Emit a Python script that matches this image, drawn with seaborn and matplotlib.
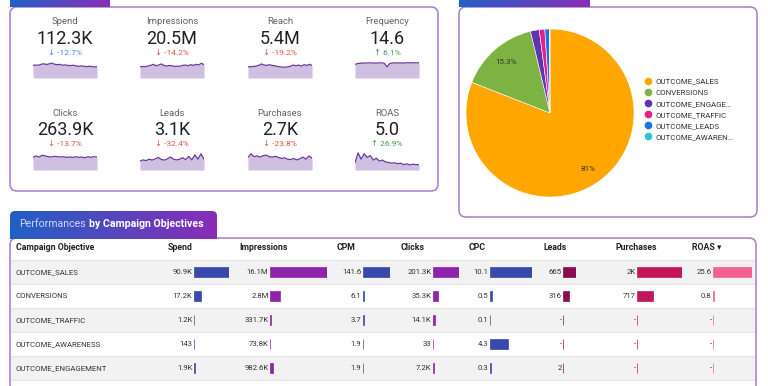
import numpy as np
import matplotlib.pyplot as plt
import seaborn as sns
from matplotlib.patches import FancyBboxPatch
from matplotlib.colors import LinearSegmentedColormap
from matplotlib.lines import Line2D

sns.set_style('white')
plt.rcParams['font.family'] = ['Roboto', 'DejaVu Sans']

W, H = 768, 386

# --- scorecards ---
kpi_names = ['Spend', 'Impressions', 'Reach', 'Frequency', 'Clicks', 'Leads', 'Purchases', 'ROAS']
kpi_values = [112300, 20.5e6, 5.4e6, 14.6, 263900, 3100, 2700, 5.0]
kpi_deltas = [-12.7, -14.2, -19.2, 6.1, -13.7, -32.4, -23.8, 26.9]

spark_spend = [0.70, 0.72, 0.71, 0.76, 0.79, 0.75, 0.78, 0.83, 0.77, 0.74, 0.76, 0.71, 0.73, 0.70,
               0.69, 0.71, 0.68, 0.65, 0.67, 0.66, 0.63, 0.65, 0.64, 0.61, 0.63]
spark_impr = [0.62, 0.64, 0.63, 0.66, 0.70, 0.76, 0.68, 0.72, 0.78, 0.70, 0.66, 0.70, 0.68, 0.64,
              0.66, 0.65, 0.70, 0.72, 0.68, 0.74, 0.70, 0.76, 0.72, 0.82, 0.74]
spark_reach = [0.62, 0.63, 0.64, 0.66, 0.70, 0.78, 0.72, 0.70, 0.74, 0.70, 0.68, 0.64, 0.62, 0.60,
               0.60, 0.62, 0.66, 0.72, 0.68, 0.72, 0.66, 0.74, 0.70, 0.76, 0.70]
spark_freq = [0.76, 0.80, 0.82, 0.83, 0.83, 0.84, 0.84, 0.83, 0.83, 0.84, 0.84, 0.82, 0.62, 0.80,
              0.84, 0.83, 0.84, 0.84, 0.83, 0.84, 0.85, 0.84, 0.85, 0.84, 0.85]
spark_clicks = [0.70, 0.78, 0.72, 0.82, 0.78, 0.74, 0.72, 0.76, 0.74, 0.72, 0.74, 0.70, 0.72, 0.70,
                0.74, 0.70, 0.72, 0.68, 0.74, 0.70, 0.74, 0.72]
spark_leads = [0.50, 0.56, 0.52, 0.60, 0.55, 0.62, 0.70, 0.58, 0.55, 0.62, 0.72, 0.60, 0.56, 0.60,
               0.68, 0.58, 0.76, 0.56, 0.84, 0.60, 0.90, 0.60]
spark_purch = [0.70, 0.90, 0.74, 0.78, 0.72, 0.80, 0.82, 0.74, 0.72, 0.76, 0.70, 0.64, 0.68, 0.60,
               0.58, 0.64, 0.56, 0.62, 0.72, 0.60, 0.78, 0.66]
spark_roas = [0.40, 0.95, 0.60, 0.90, 0.70, 0.80, 0.55, 0.65, 0.50, 0.55, 0.45, 0.42, 0.38, 0.40,
              0.35, 0.38, 0.30, 0.34, 0.28, 0.32, 0.30, 0.30]
sparks = [spark_spend, spark_impr, spark_reach, spark_freq,
          spark_clicks, spark_leads, spark_purch, spark_roas]

# --- pie (spend share by objective) ---
pie_labels = ['OUTCOME_SALES', 'CONVERSIONS', 'OUTCOME_ENGAGEMENT', 'OUTCOME_TRAFFIC',
              'OUTCOME_LEADS', 'OUTCOME_AWARENESS']
pie_spend = [91.0, 17.2, 1.9, 1.2, 0.96, 0.143]

# --- table ---
objectives = ['OUTCOME_SALES', 'CONVERSIONS', 'OUTCOME_TRAFFIC', 'OUTCOME_AWARENESS', 'OUTCOME_ENGAGEMENT']
spend = [90900, 17200, 1200, 143, 1900]
impressions = [16.1e6, 2.8e6, 331700, 73800, 982600]
cpm = [141.6, 6.1, 3.7, 1.9, 1.9]
clicks = [201300, 35300, 14100, 33, 7200]
cpc = [10.1, 0.5, 0.1, 4.3, 0.3]
leads = [665, 316, np.nan, np.nan, 2]
purchases = [2000, 717, np.nan, np.nan, np.nan]
roas = [25.6, 0.8, np.nan, np.nan, np.nan]


def fmt_kpi(v):
    if v >= 1e6:
        return f'{v / 1e6:.1f}M'
    if v >= 1e3:
        return f'{v / 1e3:.1f}K'
    return f'{v:.1f}'


def fmt_cell(v):
    if np.isnan(v):
        return '-'
    if v >= 1e6:
        s, suf = f'{v / 1e6:.1f}', 'M'
    elif v >= 1e3:
        s, suf = f'{v / 1e3:.1f}', 'K'
    elif v == int(v):
        return str(int(v))
    else:
        return f'{v:.1f}'
    if s.endswith('.0'):
        s = s[:-2]
    return s + suf


fig = plt.figure(figsize=(W / 100, H / 100), dpi=100)
fig.patch.set_facecolor('white')


def px_axes(x, y, w, h):
    return fig.add_axes([x / W, 1 - (y + h) / H, w / W, h / H])


base = px_axes(0, 0, W, H)
base.set_xlim(0, W)
base.set_ylim(H, 0)
base.axis('off')

border = '#a47cc9'
tab_cmap = LinearSegmentedColormap.from_list('tab', ['#2160c4', '#8a2db8'])
grad = np.linspace(0, 1, 256).reshape(1, -1)


def card(x0, y0, x1, y1):
    p = FancyBboxPatch((x0, y0), x1 - x0, y1 - y0, boxstyle='round,pad=0,rounding_size=7',
                       fc='none', ec=border, lw=1.1, zorder=2)
    base.add_patch(p)


def tab(x0, y0, x1, y1):
    clip = FancyBboxPatch((x0, y0), x1 - x0, y1 - y0 + 8, boxstyle='round,pad=0,rounding_size=5',
                          fc='none', ec='none', transform=base.transData)
    base.add_patch(clip)
    im = base.imshow(grad, cmap=tab_cmap, extent=(x0, x1, y1, y0), aspect='auto', zorder=3)
    im.set_clip_path(clip)


card(10, 7, 438, 191)
card(459, 7, 757, 217)
card(10, 238, 756, 420)
tab(10, -20, 110, 7)
tab(459, -20, 590, 7)
tab(10, 211, 217, 239)
base.set_xlim(0, W)
base.set_ylim(H, 0)

t1 = base.text(19, 227, 'Performances', color='#c9d6f5', fontsize=7.6, va='baseline', zorder=4)
base.annotate('by Campaign Objectives', xy=(1, 0), xycoords=t1, xytext=(2.2, 0),
              textcoords='offset points', color='white', fontsize=7.6, fontweight='bold',
              va='bottom', zorder=4)

# scorecards
col_cx = [65, 172, 280, 387]
row_y = [22, 113]
for i, name in enumerate(kpi_names):
    cx = col_cx[i % 4]
    ty = row_y[i // 4]
    base.text(cx, ty, name, ha='center', va='center', fontsize=6.8, color='#5f6368')
    base.text(cx, ty + 17, fmt_kpi(kpi_values[i]), ha='center', va='center', fontsize=13,
              color='#202124')
    d = kpi_deltas[i]
    if name == 'Spend':
        dc = '#3a8de0'
    elif d < 0:
        dc = '#e0524a'
    else:
        dc = '#3e9b4f'
    arrow = '↓' if d < 0 else '↑'
    base.text(cx, ty + 31, f'{arrow} {d:.1f}%', ha='center', va='center', fontsize=6,
              color=dc)
    vals = sparks[i]
    sx = cx - 32
    sy = ty + 38 if i < 4 else ty + 39
    sax = px_axes(sx, sy, 64, 18)
    xs = np.arange(len(vals))
    sax.fill_between(xs, vals, color='#cfbfe1', lw=0)
    sns.lineplot(x=xs, y=vals, ax=sax, color='#6a3a9e', linewidth=0.9)
    sax.set_xlim(0, len(vals) - 1)
    sax.set_ylim(0, 1)
    sax.axis('off')

# pie
pax = px_axes(466, 29, 168, 168)
pie_colors = ['#ffa600', '#7cb342', '#5e35b1', '#e91e8c', '#1a73e8', '#26c6da']


def pct(p):
    if p < 5:
        return ''
    s = f'{p:.1f}'
    if s.endswith('.0'):
        s = s[:-2]
    return s + '%'


pax.pie(pie_spend, colors=pie_colors, startangle=90, counterclock=False, autopct=pct,
        pctdistance=0.8, textprops={'fontsize': 5.8, 'color': '#333333'},
        wedgeprops={'edgecolor': 'white', 'linewidth': 0.4})
pax.set_xlim(-1, 1)
pax.set_ylim(-1, 1)
pax.set_aspect('equal')

handles = [Line2D([], [], marker='o', ls='none', color=c, markersize=4.5) for c in pie_colors]
short = [n if len(n) <= 15 else n[:14] + '…' for n in pie_labels]
leg = fig.legend(handles, short, loc='upper left', bbox_to_anchor=(641 / W, 1 - 74 / H),
                 frameon=False, fontsize=5.7, handlelength=0.8, handletextpad=0.5,
                 labelspacing=0.58, borderpad=0)
for t in leg.get_texts():
    t.set_color('#333333')

# table
row_top = 260
row_h = 24
for r in range(len(objectives) + 1):
    y = row_top + r * row_h
    base.plot([11, 755], [y, y], color='#e2e2e2', lw=0.6, zorder=1)
for r in range(0, len(objectives), 2):
    base.fill_between([11, 755], row_top + r * row_h, row_top + (r + 1) * row_h,
                      color='#f2f2f2', lw=0, zorder=0)

base.text(16, 247, 'Campaign Objective', fontsize=6.3, fontweight='bold', va='center',
          color='#222222')
for r, obj in enumerate(objectives):
    base.text(16, row_top + r * row_h + 12, obj, fontsize=5.6, va='center', color='#333333')

columns = [
    ('Spend', spend, 168, 194, 35, '#3949ab'),
    ('Impressions', impressions, 239, 270, 57, '#8e24aa'),
    ('CPM', cpm, 337, 363, 27, '#3949ab'),
    ('Clicks', clicks, 401, 433, 26, '#8e24aa'),
    ('CPC', cpc, 469, 490, 42, '#3949ab'),
    ('Leads', leads, 543, 563, 13, '#880e4f'),
    ('Purchases', purchases, 616, 637, 45, '#c2185b'),
    ('ROAS ▾', roas, 692, 713, 39, '#f06292'),
]
for header, vals, hx, bx, bw, c in columns:
    base.text(hx, 247, header, fontsize=6.3, fontweight='bold', va='center', color='#222222')
    arr = np.array(vals, dtype=float)
    bax = px_axes(bx, row_top, bw, row_h * len(objectives))
    sns.barplot(x=np.nan_to_num(arr), y=objectives, orient='h', color=c, saturation=1,
                width=0.42, edgecolor=c, linewidth=0.5, ax=bax)
    bax.set_xlim(0, np.nanmax(arr))
    bax.set_ylim(len(objectives) - 0.5, -0.5)
    bax.axis('off')
    for r, v in enumerate(arr):
        base.text(bx - 1.5, row_top + r * row_h + 12, fmt_cell(v), fontsize=5.6, ha='right',
                  va='center', color='#333333')

fig.savefig('out.png', dpi=100, facecolor='white')
